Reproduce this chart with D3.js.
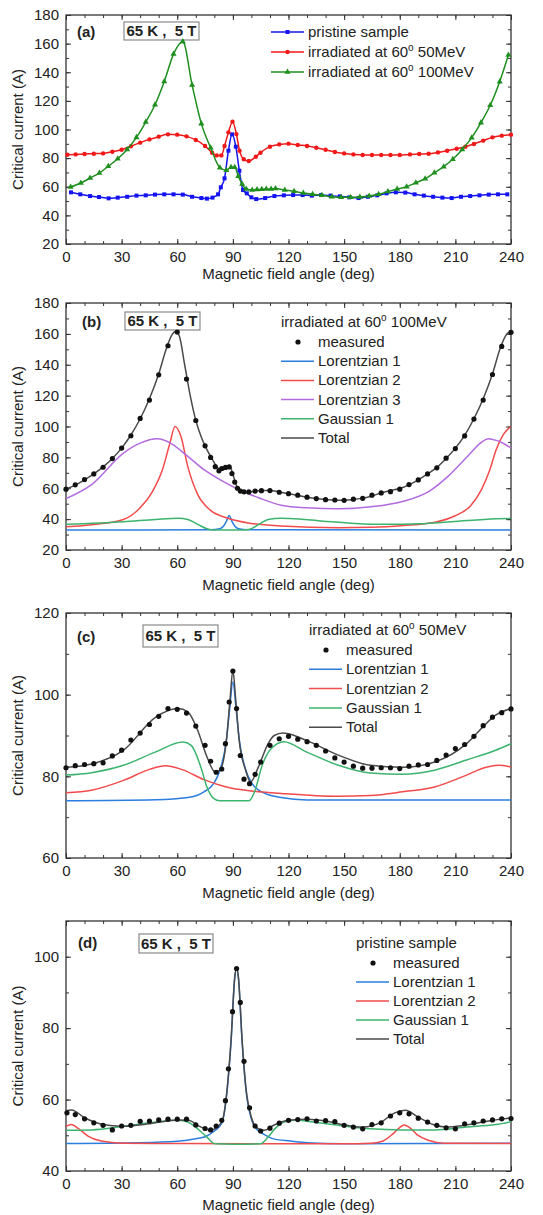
<!DOCTYPE html>
<html>
<head>
<meta charset="utf-8">
<script src="https://cdn.jsdelivr.net/npm/d3@7"></script>
<style>
  body { margin: 0; background: #fff; }
  svg { display: block; font-family: "Liberation Sans", Arial, sans-serif; }
  .tick text { font-size: 15px; fill: #222; }
</style>
</head>
<body>
<div class="container"></div>
<script>
// ---------- data: panel (a) ----------
const angA_pristine = [2.7,7.7,13,17.8,23,27.9,33,38,43,48,53,58,63,68,73,76,79,82,83.5,85.5,87.6,89.6,91.6,93.5,95.5,97.5,100,102.6,107.4,112.4,117.5,122.5,127.6,132.6,137.6,142.7,147.7,152.8,157.8,162.8,167.9,172.9,177.9,183,188,193,198,203,208,213,218,223,228,233,238];
const valA_pristine = [56.1,54.7,53.5,52.8,51.9,52.4,53,53.8,54,54.5,54.7,54.7,54.5,53,52.1,51.7,52.4,54.7,59.6,65.9,85.2,96.6,88,71.2,57.7,55.4,52.6,51.4,52.1,53.5,54,54.2,54.2,53.8,54.2,53.8,53.3,52.6,52.1,53,54,55.4,56.1,55.9,54.7,53.8,53,52.4,52.1,53,53.5,54,54.5,54.7,54.7];
const angA_50 = [0.7,5.2,10,15,20,25,30,35,40,45,50,55,60,65,70,75,78.8,81.3,83.8,85.5,87.6,89.8,91.9,93.6,95.9,98.6,102.4,104.9,110,115,120,125,130,135,140,145,150,155,160,165,170,175,180,185.5,190.5,195.6,200.6,205.6,210.7,215.4,220,225,230,235,240];
const valA_50 = [82.4,82.6,82.9,83.1,83.3,84.5,85.9,88.3,90.8,93.1,95,96.6,96.4,95.2,92.7,88.5,83.8,81.9,81.9,88.5,98,105.5,96.8,85.2,79.2,78,81,83.8,88,89.6,90.1,89.2,88.5,87.3,85.9,84.3,83.3,82.6,82.2,82.2,82.2,82.2,82.2,82.6,82.9,83.1,84,85.2,86.6,88,89.9,92.2,94.5,95.7,96.4];
const angA_100 = [2.5,8,13,18,22.8,27.9,33,38,43,48,53,58,63,68,73,78,83,86.5,89,91,92.9,95,97.2,100.4,103,105.6,108,110.6,113,118,123,128,133,138,143.4,148.4,153.5,158.5,163.5,168.6,173.6,178.6,183.7,188.7,193.7,198.7,203.7,208.6,213.7,218.8,223.8,228.8,233.9,238.6];
const valA_100 = [59.8,62.6,66.1,69.6,74.3,79.6,86.1,94.5,105.2,117.3,133.6,152.7,161.4,131.1,104.1,87.3,73.3,71.5,73.6,73.6,67.3,61.9,58.4,57.7,58,58.2,58.4,58.4,58.7,57.7,56.8,55.6,54.7,54,53,52.6,52.6,52.8,53.5,54.7,56.6,58.4,60,62.8,65.6,69.8,74,79.2,86.1,94.3,104.8,116.9,133.4,152];

// ---------- data: panel (b) irradiated 100MeV ----------
const angB_meas = [0,5,10,15,20,25,30,35,40,45,50,55,60,65,70,75,78,80.5,82.5,84,86,88,89.5,91,92.5,94,96,98.6,102,105.4,110,115,120,125,130,135,140,145,150,155,160,165,170,175,180,185,190,195,200,205,210,215,220,225,230,235,240];
const valB_meas = [59.4,62.2,65.6,69.3,73.6,79.2,86,94,105.2,117.1,133.5,152.3,161.2,130.7,103.9,87.5,80,74,71.3,72.8,73.5,73.8,69.5,64,60,58.2,57.7,57.6,58.2,58.4,58.5,57.4,56.5,55.5,54.2,53.3,52.6,52.4,52.2,52.9,53.5,55.5,57,57.8,59.4,62.4,65.4,69.3,73.2,79.5,85.7,93.9,104.8,117.1,133.7,151.9,161];
const angB_L1 = [0,78,83,85,86.5,88,89.5,91,93,98,240];
const valB_L1 = [33,33.1,33.8,35.5,38.5,42.4,38.5,35.5,33.8,33.1,33];
const angB_L2 = [0,15,31,40,46.7,52,56,58.8,62,65.7,71,77.8,86.5,100,116,147,165,182,199,209.6,218,224,228.6,232,236,240];
const valB_L2 = [35,36.5,39.8,47.3,58,72,89,100,93.5,74,56,45.8,40.9,37.2,35.5,34.4,34.7,35.9,38,42,48.4,59,72,85,95,100];
const angB_L3 = [0,13.8,31,40,49.3,57,65.7,74.4,83,93.4,104,116,130,147,164.6,182,195.8,206,216.5,223.5,227.8,232,236,240];
const valB_L3 = [53.3,62.4,82.8,89.2,92,88.8,80.6,72,65.6,59,53.8,49,47.3,46.7,48,51.6,58,67.7,80.6,89.2,92,91,89,86];
const angB_G1 = [0,31,48.4,60.5,65.7,71,76,80,84,90,95,98.6,104,109,116,121,138.7,156,173,190.6,208,232,240];
const valB_G1 = [36.6,38.3,39.8,40.6,39.8,36.6,33.8,33,33,33,33,33.3,36.6,39.8,40.6,40.4,38.7,37.2,36.6,37,38.3,40.2,40.5];
const angB_tot = [0,5,10,15,20,25,30,35,40,45,50,54,57,59,61,64,67,70,73,76,79,82,85,87,88.5,90,92,94,97,100,105,110,115,120,125,130,135,140,145,150,155,160,165,170,175,180,185,190,195,200,205,210,215,220,225,230,234,237,239,240];
const valB_tot = [59.5,62,65.5,69.3,73.8,79.3,86,94.5,105,118,134,150,159,161.5,159,140,120,104,93,85,78.5,73,72,74,74,69,61.5,58.2,57.5,57.8,58.5,58.6,57.6,56.5,55.3,54.2,53.3,52.7,52.3,52.3,52.7,53.6,55,57,58.5,59.8,62.2,65.4,69.3,73.5,79.3,86,94.3,105,118,134,150,158.5,161,161];

// ---------- data: panel (c) irradiated 50MeV ----------
const angC_meas = [0,5,10,15,20,25,30,35,40,45,50,55,60,65,70,75,78,81,84,86,88,90,92,94,96,99,102,105,110,115,120,125,130,135,140,145,150,155,160,165,170,175,180,185,190,195,200,205,210,215,220,225,230,235,240];
const valC_meas = [82.1,82.6,82.9,83.1,83.3,85,86.4,88.9,90.6,92.7,94.7,96.6,96.4,95.5,92.3,87.6,83.7,81,81.8,88,98.2,105.8,96.6,85.1,79.3,78.2,80.5,83.5,87.6,89.2,89.8,89.1,88.5,87.6,86.2,84.5,83.5,82.5,82,82,82.1,82.1,81.9,82.5,82.8,82.9,83.9,85.2,86.8,87.8,89.8,92.4,94.5,95.6,96.5];
const angC_L1 = [0,48.4,65.7,74.4,79.6,83,86.5,88.2,90,91.8,93.5,97,100.4,105.5,116,130,240];
const valC_L1 = [74,74.25,74.8,76.2,78.2,81.5,88.8,96.2,103.1,96.2,88.8,81.5,78.2,76.2,74.8,74.2,74.2];
const angC_L2 = [0,13.8,31,45,53.6,62.3,74.4,86.5,100,116,146.9,164.2,181.5,198.8,216,226.5,233,240];
const valC_L2 = [76,76.6,79,81.7,82.6,81.7,79.2,77.4,76.4,75.8,75.1,75.3,76.2,77.4,80.3,82.2,82.7,82.3];
const angC_G1 = [0,13.8,31,48.4,63,67.5,72.7,76,79.6,83,90,98.6,102,105.5,110.7,117.5,129.6,146.9,164.2,181.5,198.8,216,231.7,240];
const valC_G1 = [80.3,80.9,82.7,86,88.4,87.6,82.3,77.4,74.6,74,74,74,76.6,82.3,86.8,88.5,86,82.7,80.8,80.5,81.5,84,86.4,88];
const angC_tot = [0,13.8,31,48.4,60.5,65.7,71,76,80.4,83,86.5,88.5,90,91.5,93.4,96.9,99.5,103.8,109,112.3,117,119.2,129.6,146.9,164.2,181.5,198.8,216,224.8,231.7,240];
const valC_tot = [82.2,83,86.4,94.5,96.6,95.8,91.3,84.8,81.1,81.5,88.8,99,106,99,88.8,81.5,78.6,82.3,88,90,90.6,90.5,88.8,85.2,82.7,82.2,83.5,88,92.1,95,96.6];

// ---------- data: panel (d) pristine ----------
const angD_meas = [0.5,5,10,15,20,25,30,35,40,45,50,55,60,65,70,75,78,81,84,86,87.6,89.8,92,94,96,99,102,105,110,115,120,125,130,135,140,145,150,155,160,165,170,175,180,185,190,195,200,205,210,215,220,225,230,235,240];
const valD_meas = [56.3,55.8,54.6,53.5,52.8,51.5,52.6,52.8,53.9,54,54.3,54.5,54.5,54.5,52.9,51.9,51.5,52.6,54.2,59.7,68.6,84.6,96.7,87.2,70.7,57.7,52.6,51.2,52,53.4,54.2,54.4,54.6,54,54.1,53.8,52.8,52.3,51.8,53,53.5,55.4,56.3,56,54.8,53.7,52.8,52.1,51.8,53.2,53.5,54,54.3,54.6,54.7];
const angD_L1 = [0,40,60,70,76,80,84,87,89,91,92,93,95,97,100,103,107,112,121,130,150,240];
const valD_L1 = [47.7,47.9,48.3,49,49.8,51.2,53.4,63,76,94,96.8,94,76,63,54.5,51.6,50.2,49,48.4,47.9,47.6,47.8];
const angD_L2 = [0,2.9,6.9,12.1,19,31,60,100,150,165,171,176.3,179.8,182.4,185,189.3,195.3,204,240];
const valD_L2 = [52.5,53,51.8,49.7,48.4,47.8,47.7,47.6,47.6,47.8,48.4,50.4,52.1,52.9,52.3,50.2,48.6,47.8,47.7];
const angD_G1 = [0,13.8,31,48.4,60.5,65.7,71,76,80.5,90,104.7,109,113,118,124,133,147,164,181.5,198.8,216,231.7,240];
const valD_G1 = [51.4,51.5,52.5,53.7,54.2,53.7,51.8,49.5,47.6,47.5,47.6,49.5,52,53.8,54.3,53.7,52.8,51.8,51.5,51.5,52.3,53,53.8];
const angD_tot = [0,3,10,20,30,45,60,66,72,78,84,87,89,91,92,93,95,97,100,103,107,112,120,130,140,150,160,170,177,183,190,198,205,215,230,240];
const valD_tot = [56.9,57.1,54.9,53,52.5,53.2,54.3,54.2,52.5,51.5,53.7,63.5,76.5,94.2,97,94.2,76.5,63.5,55,52.1,51.4,52.8,54.2,54.5,54,52.9,52.3,53.7,56.2,57,55.1,53,52.3,52.8,54.2,54.9];

const xTicks = [0,30,60,90,120,150,180,210,240];
const xMinor = d3.range(0, 241, 10);

// ---------- layout ----------
const W = 543, H = 1215;
const LEFT = 66, RIGHT = 511;
const FS = 15;
const C = {
  blue: "#1414f0", red: "#f01818", green: "#1f8f1f",
  L1: "#2b7de0", L2: "#f24b4b", L3: "#b36be0", G1: "#3cb46e", tot: "#4a4a4a"
};

const svg = d3.select(".container").append("svg")
  .attr("width", W).attr("height", H).attr("viewBox", [0, 0, W, H]);

const x = d3.scaleLinear().domain([0, 240]).range([LEFT, RIGHT]);
const pts = (a, v) => a.map((d, i) => [d, v[i]]);

function panel(cfg) {
  const y = d3.scaleLinear().domain(cfg.domain).range([cfg.bottom, cfg.top]);
  const g = svg.append("g");
  const yMinor = d3.range(cfg.domain[0], cfg.domain[1] + 0.1, 10);

  // ticks, all pointing inward
  const axes = [
    [d3.axisBottom, `translate(0,${cfg.bottom})`, x, xTicks, xMinor, true],
    [d3.axisTop, `translate(0,${cfg.top})`, x, xTicks, xMinor, false],
    [d3.axisLeft, `translate(${LEFT},0)`, y, cfg.yTicks, yMinor, true],
    [d3.axisRight, `translate(${RIGHT},0)`, y, cfg.yTicks, yMinor, false]
  ];
  for (const [mk, tr, sc, major, minor, labels] of axes) {
    g.append("g").attr("transform", tr)
      .call(mk(sc).tickValues(minor).tickSize(-3).tickFormat(""))
      .call(s => s.select(".domain").remove())
      .call(s => s.selectAll("line").attr("stroke", "#333"));
    g.append("g").attr("transform", tr)
      .call(mk(sc).tickValues(major).tickSize(-5).tickPadding(labels ? 7 : 0)
        .tickFormat(labels ? d3.format("d") : ""))
      .call(s => s.select(".domain").remove())
      .call(s => s.selectAll("line").attr("stroke", "#333"));
  }
  g.append("rect")
    .attr("x", LEFT).attr("y", cfg.top)
    .attr("width", RIGHT - LEFT).attr("height", cfg.bottom - cfg.top)
    .attr("fill", "none").attr("stroke", "#333").attr("stroke-width", 1.3);

  // axis titles
  g.append("text")
    .attr("x", (LEFT + RIGHT) / 2).attr("y", cfg.bottom + cfg.titleOff)
    .attr("text-anchor", "middle").attr("font-size", FS).attr("fill", "#222")
    .text("Magnetic field angle (deg)");
  const cy = (cfg.top + cfg.bottom) / 2;
  g.append("text")
    .attr("transform", `translate(23,${cy}) rotate(-90)`)
    .attr("text-anchor", "middle").attr("font-size", FS).attr("fill", "#222")
    .text("Critical current (A)");

  // panel tag and condition box
  g.append("text").attr("x", cfg.tag[0]).attr("y", cfg.tag[1])
    .attr("font-size", FS).attr("font-weight", "bold").attr("fill", "#222")
    .text(cfg.label);
  const [bx, by, bw, bh] = cfg.box;
  g.append("rect").attr("x", bx).attr("y", by).attr("width", bw).attr("height", bh)
    .attr("fill", "#fff").attr("stroke", "#8a8a8a").attr("stroke-width", 1.2);
  g.append("text").attr("x", bx + bw / 2).attr("y", by + bh / 2 + 5)
    .attr("text-anchor", "middle").attr("font-size", FS).attr("font-weight", "bold")
    .attr("fill", "#222").attr("xml:space", "preserve").text("65 K ,  5 T");

  const line = d3.line().x(d => x(d[0])).y(d => y(d[1])).curve(d3.curveMonotoneX);
  const plot = g.append("g");
  return { y, g, plot, line };
}

function superText(sel, pre, post) {
  sel.append("tspan").text(pre);
  sel.append("tspan").attr("font-size", 10).attr("dy", -6).text("o");
  sel.append("tspan").attr("dy", 6).text(post);
}

function marker(sel, type, cx, cy, color) {
  if (type === "square") {
    sel.append("rect").attr("x", cx - 2).attr("y", cy - 2).attr("width", 4).attr("height", 4).attr("fill", color);
  } else if (type === "circle") {
    sel.append("circle").attr("cx", cx).attr("cy", cy).attr("r", 2.2).attr("fill", color);
  } else {
    sel.append("path").attr("d", d3.symbol(d3.symbolTriangle, 16)()).attr("transform", `translate(${cx},${cy})`).attr("fill", color);
  }
}

// ---------- panel (a) ----------
{
  const p = panel({ domain: [20, 180], top: 15, bottom: 244, yTicks: d3.range(20, 181, 20),
    titleOff: 35, label: "(a)", tag: [77, 37], box: [124, 22, 75, 18] });
  const series = [
    { a: angA_pristine, v: valA_pristine, c: C.blue, m: "square", name: ["pristine sample"] },
    { a: angA_50, v: valA_50, c: C.red, m: "circle", name: ["irradiated at 60", " 50MeV"] },
    { a: angA_100, v: valA_100, c: C.green, m: "tri", name: ["irradiated at 60", " 100MeV"] }
  ];
  series.forEach((s, i) => {
    const data = pts(s.a, s.v);
    p.plot.append("path").datum(data).attr("d", p.line)
      .attr("fill", "none").attr("stroke", s.c).attr("stroke-width", 1.5);
    const mg = p.plot.append("g");
    data.forEach(d => marker(mg, s.m, x(d[0]), p.y(d[1]), s.c));
    // legend
    const ly = 32 + i * 20;
    p.g.append("line").attr("x1", 271).attr("x2", 304).attr("y1", ly).attr("y2", ly)
      .attr("stroke", s.c).attr("stroke-width", 1.5);
    marker(p.g, s.m, 287.5, ly, s.c);
    const t = p.g.append("text").attr("x", 308).attr("y", ly + 5).attr("font-size", FS).attr("fill", "#222");
    if (s.name.length > 1) superText(t, s.name[0], s.name[1]); else t.text(s.name[0]);
  });
}

// fit panels
function fitPanel(cfg, comps, meas, legend) {
  const p = panel(cfg);
  comps.forEach(s => {
    p.plot.append("path").datum(pts(s.a, s.v)).attr("d", p.line)
      .attr("fill", "none").attr("stroke", s.c).attr("stroke-width", s.w || 1.5);
  });
  p.plot.append("g").selectAll("circle").data(pts(meas[0], meas[1])).join("circle")
    .attr("cx", d => x(d[0])).attr("cy", d => p.y(d[1])).attr("r", 2.6).attr("fill", "#111");
  // legend
  const L = legend;
  const t = p.g.append("text").attr("x", L.x).attr("y", L.y0).attr("font-size", FS).attr("fill", "#222");
  if (L.title.length > 1) superText(t, L.title[0], L.title[1]); else t.text(L.title[0]);
  const rows = [{ name: "measured", dot: true }].concat(comps.map(s => ({ name: s.name, c: s.c })));
  rows.forEach((r, i) => {
    const ly = L.y0 + 20 + i * L.dy - 5;
    if (r.dot) {
      p.g.append("circle").attr("cx", L.x + 17).attr("cy", ly).attr("r", 2.6).attr("fill", "#111");
    } else {
      p.g.append("line").attr("x1", L.x).attr("x2", L.x + 33).attr("y1", ly).attr("y2", ly)
        .attr("stroke", r.c).attr("stroke-width", 1.5);
    }
    p.g.append("text").attr("x", L.x + 37).attr("y", ly + 5).attr("font-size", FS).attr("fill", "#222").text(r.name);
  });
}

fitPanel(
  { domain: [20, 180], top: 303, bottom: 550, yTicks: d3.range(20, 181, 20),
    titleOff: 40, label: "(b)", tag: [82, 327], box: [125, 312, 75, 18] },
  [
    { a: angB_L1, v: valB_L1, c: C.L1, name: "Lorentzian 1" },
    { a: angB_L2, v: valB_L2, c: C.L2, name: "Lorentzian 2" },
    { a: angB_L3, v: valB_L3, c: C.L3, name: "Lorentzian 3" },
    { a: angB_G1, v: valB_G1, c: C.G1, name: "Gaussian 1" },
    { a: angB_tot, v: valB_tot, c: C.tot, name: "Total" }
  ],
  [angB_meas, valB_meas],
  { x: 281, y0: 327, dy: 19.2, title: ["irradiated at 60", " 100MeV"] }
);

fitPanel(
  { domain: [60, 120], top: 613, bottom: 858, yTicks: [60, 80, 100, 120],
    titleOff: 40, label: "(c)", tag: [77, 642], box: [143, 625, 75, 22] },
  [
    { a: angC_L1, v: valC_L1, c: C.L1, name: "Lorentzian 1" },
    { a: angC_L2, v: valC_L2, c: C.L2, name: "Lorentzian 2" },
    { a: angC_G1, v: valC_G1, c: C.G1, name: "Gaussian 1" },
    { a: angC_tot, v: valC_tot, c: C.tot, name: "Total" }
  ],
  [angC_meas, valC_meas],
  { x: 309, y0: 635, dy: 19.3, title: ["irradiated at 60", " 50MeV"] }
);

fitPanel(
  { domain: [40, 110], top: 921, bottom: 1171, yTicks: [40, 60, 80, 100],
    titleOff: 39, label: "(d)", tag: [78, 948], box: [139, 934, 74, 19] },
  [
    { a: angD_L1, v: valD_L1, c: C.L1, name: "Lorentzian 1" },
    { a: angD_L2, v: valD_L2, c: C.L2, name: "Lorentzian 2" },
    { a: angD_G1, v: valD_G1, c: C.G1, name: "Gaussian 1" },
    { a: angD_tot, v: valD_tot, c: C.tot, name: "Total" }
  ],
  [angD_meas, valD_meas],
  { x: 356, y0: 948, dy: 19, title: ["pristine sample"] }
);
</script>
</body>
</html>
